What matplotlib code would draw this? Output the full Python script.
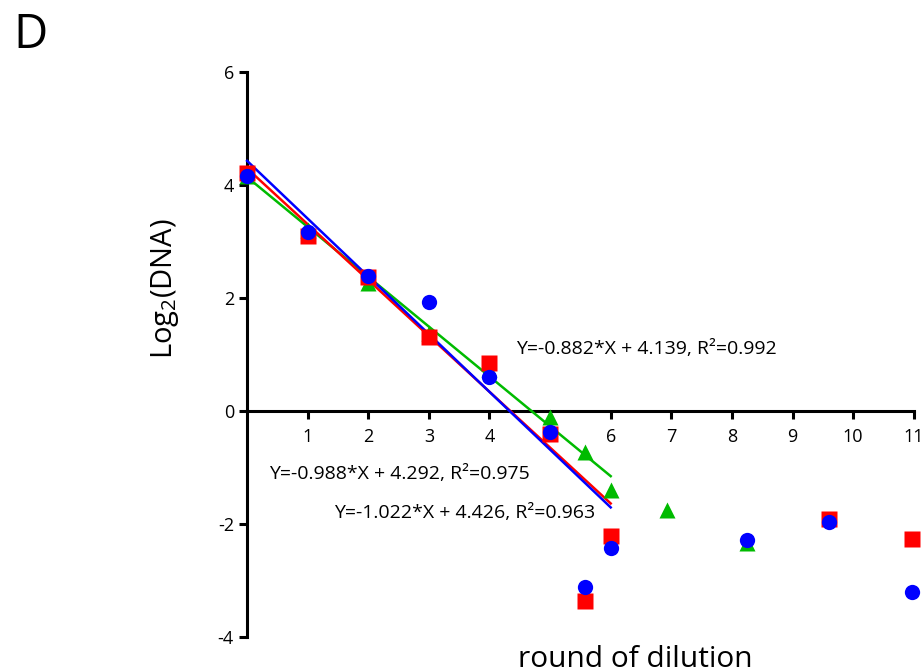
import matplotlib
matplotlib.use("Agg")
import matplotlib.pyplot as plt
import numpy as np

plt.rcParams['font.family'] = ['Open Sans', 'DejaVu Sans']
plt.rcParams['axes.unicode_minus'] = False
plt.rcParams['mathtext.fontset'] = 'custom'
plt.rcParams['mathtext.rm'] = 'Open Sans'
plt.rcParams['mathtext.it'] = 'Open Sans'

# dilution rounds and log2 DNA measurements for three series
green_x = [0, 1, 2, 3, 4, 5, 5.58, 6, 6.93, 8.25]
green_y = [4.15, 3.20, 2.26, 1.38, 0.75, -0.10, -0.73, -1.40, -1.75, -2.33]

red_x = [0, 1, 2, 3, 4, 5, 5.58, 6, 9.6, 10.97]
red_y = [4.21, 3.10, 2.37, 1.31, 0.85, -0.41, -3.36, -2.21, -1.91, -2.27]

blue_x = [0, 1, 2, 3, 4, 5, 5.58, 6, 8.25, 9.6, 10.97]
blue_y = [4.16, 3.17, 2.39, 1.93, 0.60, -0.37, -3.12, -2.42, -2.28, -1.96, -3.20]

# linear fits (slope, intercept, R^2)
green_fit = (-0.882, 4.139, 0.992)
red_fit = (-0.988, 4.292, 0.975)
blue_fit = (-1.022, 4.426, 0.963)
fit_range = (0, 6)

x_ticks = [1, 2, 3, 4, 5, 6, 7, 8, 9, 10, 11]
y_ticks = [-4, -2, 0, 2, 4, 6]

GREEN = '#00BB00'
RED = '#FF0000'
BLUE = '#0000FF'

fig = plt.figure(figsize=(9.22, 6.72), dpi=100)
ax = fig.add_axes([0.268, 0.052, 0.723, 0.841])
ax.set_xlim(0, 11)
ax.set_ylim(-4, 6)

xf = np.array(fit_range, dtype=float)
for (m, b, r2), c in [(green_fit, GREEN), (red_fit, RED), (blue_fit, BLUE)]:
    ax.plot(xf, m * xf + b, color=c, lw=1.8, zorder=3, clip_on=False)

ax.plot(green_x, green_y, linestyle='none', marker='^', ms=11.5, color=GREEN,
        mec='none', zorder=4, clip_on=False)
ax.plot(red_x, red_y, linestyle='none', marker='s', ms=11, color=RED,
        mec='none', zorder=5, clip_on=False)
ax.plot(blue_x, blue_y, linestyle='none', marker='o', ms=11, color=BLUE,
        mec='none', zorder=6, clip_on=False)

def eq_label(fit):
    m, b, r2 = fit
    return f"Y={m:.3f}*X + {b:.3f}, R\u00b2={r2:.3f}"

ax.text(4.44, 1.1, eq_label(green_fit), fontsize=14, va='center', ha='left')
ax.text(0.36, -1.11, eq_label(red_fit), fontsize=14, va='center', ha='left')
ax.text(1.43, -1.8, eq_label(blue_fit), fontsize=14, va='center', ha='left')

# axes styling
for s in ['top', 'right']:
    ax.spines[s].set_visible(False)
ax.spines['bottom'].set_position(('data', 0))
ax.spines['left'].set_linewidth(2.2)
ax.spines['bottom'].set_linewidth(2.2)
ax.set_xticks(x_ticks)
ax.set_yticks(y_ticks)
ax.tick_params(axis='both', direction='out', length=6, width=2.2, labelsize=13)
ax.tick_params(axis='x', pad=6)
for lbl in ax.get_xticklabels():
    lbl.set_zorder(1)

fig.text(0.179, 0.570, 'Log$_2$(DNA)', fontsize=21, rotation=90,
         ha='center', va='center')
fig.text(0.689, 0.0074, 'round of dilution', fontsize=21.5, ha='center',
         va='baseline')
fig.text(0.014, 0.948, 'D', fontsize=34, ha='left', va='center')

fig.savefig('out.png', dpi=100)
